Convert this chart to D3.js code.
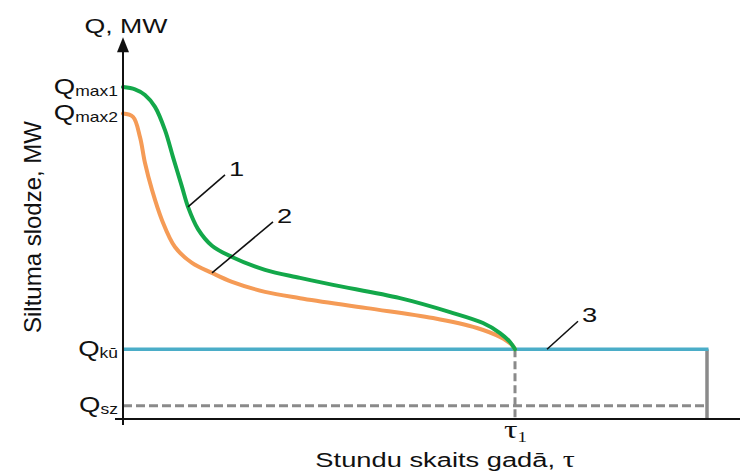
<!DOCTYPE html>
<html>
<head>
<meta charset="utf-8">
<script src="https://cdn.jsdelivr.net/npm/d3@7"></script>
<style>
  body { margin: 0; background: #fff; }
  text { font-family: "Liberation Sans", Arial, sans-serif; fill: #111; }
</style>
</head>
<body>
<svg id="chart" width="740" height="472"></svg>
<script>
// Annual heat load duration curves: heat load (MW) against hours per year.

// Curve 1 (green): hours and load
const hours1 = [0, 180, 330, 480, 630, 750, 885, 975, 1125, 1335, 1635, 2130, 2655, 3150, 4155, 4905, 5400, 5655, 5805, 5880];
const load1  = [100, 99.3, 97.6, 94.0, 87.0, 78.9, 69.9, 63.9, 57.2, 52.2, 48.8, 44.9, 42.5, 40.4, 36.4, 32.2, 28.9, 25.9, 23.2, 21];

// Curve 2 (orange): hours and load
const hours2 = [0, 150, 255, 330, 435, 585, 780, 1035, 1335, 1635, 2130, 2655, 3660, 4650, 5310, 5655, 5835, 5880];
const load2  = [92, 91.0, 84.9, 77.1, 69.0, 59.9, 51.8, 47.0, 44.0, 41.3, 38.3, 36.4, 33.4, 30.4, 27.4, 24.7, 22.3, 21];

// Named load levels on the vertical axis
const levelNames  = ["max1", "max2", "kū", "sz"];
const levelValues = [100, 92, 21, 4];

// Time markers
const tau1 = 5880;        // end of the variable-load period
const yearHours = 8760;   // hours in a year
const axisTopLoad = 115;  // top of the load axis (arrow tip)

// Callout labels: which curve and at what hour they point
const calloutText  = ["1", "2", "3"];
const calloutHours = [975, 1335, 6360];

const svg = d3.select("#chart");
const W = 740, H = 472;

const x = d3.scaleLinear().domain([0, yearHours]).range([123, 707]);
const y = d3.scaleLinear().domain([0, 100]).range([419, 87]);

const C = {
  green: "#13a84a",
  orange: "#f59b56",
  blue: "#4badc8",
  gray: "#8a8a8a"
};
const SERIF = "'Liberation Serif', 'DejaVu Serif', 'Times New Roman', serif";

// Base-load and minimum-load reference lines
const qKu = levelValues[2];
const qSz = levelValues[3];

svg.append("line")
  .attr("x1", x(0)).attr("x2", x(yearHours))
  .attr("y1", y(qSz)).attr("y2", y(qSz))
  .attr("stroke", C.gray).attr("stroke-width", 3)
  .attr("stroke-dasharray", "9,4");

svg.append("line")
  .attr("x1", x(tau1)).attr("x2", x(tau1))
  .attr("y1", y(qKu)).attr("y2", y(0))
  .attr("stroke", C.gray).attr("stroke-width", 3)
  .attr("stroke-dasharray", "8,4");

svg.append("line")
  .attr("x1", x(yearHours)).attr("x2", x(yearHours))
  .attr("y1", y(qKu)).attr("y2", y(0))
  .attr("stroke", C.gray).attr("stroke-width", 3.5);

svg.append("line")
  .attr("x1", x(0)).attr("x2", x(yearHours) + 1.5)
  .attr("y1", y(qKu)).attr("y2", y(qKu))
  .attr("stroke", C.blue).attr("stroke-width", 3.5);

// Duration curves
const line = d3.line()
  .x(d => x(d[0]))
  .y(d => y(d[1]))
  .curve(d3.curveCatmullRom.alpha(0.5));

const curve1 = d3.zip(hours1, load1);
const curve2 = d3.zip(hours2, load2);

svg.append("path").datum(curve2)
  .attr("d", line)
  .attr("fill", "none").attr("stroke", C.orange).attr("stroke-width", 4)
  .attr("stroke-linecap", "round");

svg.append("path").datum(curve1)
  .attr("d", line)
  .attr("fill", "none").attr("stroke", C.green).attr("stroke-width", 4)
  .attr("stroke-linecap", "round");

// Axes
const axisColor = "#111";
svg.append("line")
  .attr("x1", x(0) - 8).attr("x2", W)
  .attr("y1", y(0)).attr("y2", y(0))
  .attr("stroke", axisColor).attr("stroke-width", 2);

svg.append("line")
  .attr("x1", x(0)).attr("x2", x(0))
  .attr("y1", y(0) + 6).attr("y2", y(axisTopLoad) + 12)
  .attr("stroke", axisColor).attr("stroke-width", 2);

svg.append("path")
  .attr("d", `M${x(0)},${y(axisTopLoad)} L${x(0) - 6},${y(axisTopLoad) + 15} L${x(0) + 6},${y(axisTopLoad) + 15} Z`)
  .attr("fill", axisColor);

// Load level labels on the vertical axis
const yAxis = d3.axisLeft(y)
  .tickValues(levelValues)
  .tickSize(0)
  .tickFormat("");
const gy = svg.append("g")
  .attr("transform", `translate(${x(0)},0)`)
  .call(yAxis);
gy.select(".domain").remove();
gy.selectAll(".tick text").remove();
gy.selectAll(".tick").each(function(v, i) {
  const t = d3.select(this).append("text")
    .attr("text-anchor", "end")
    .attr("transform", "translate(-5,6) scale(1.25,1)")
    .style("font-size", "22px");
  t.append("tspan").text("Q");
  t.append("tspan").text(levelNames[i])
    .style("font-size", "14px")
    .attr("dy", 2);
});

// Time label under the axis
const xAxis = d3.axisBottom(x)
  .tickValues([tau1])
  .tickSize(0)
  .tickFormat("");
const gx = svg.append("g")
  .attr("transform", `translate(0,${y(0)})`)
  .call(xAxis);
gx.select(".domain").remove();
gx.selectAll(".tick text").remove();
gx.selectAll(".tick").each(function() {
  const t = d3.select(this).append("text")
    .attr("text-anchor", "middle")
    .attr("transform", "translate(0,19) scale(1.35,1)")
    .style("font-family", SERIF)
    .style("font-size", "25px");
  t.append("tspan").text("τ");
  t.append("tspan").text("1").style("font-size", "14px").attr("dy", 4);
});

// Axis titles
svg.append("text")
  .attr("text-anchor", "middle")
  .attr("transform", `translate(${x(0) + 3},33) scale(1.27,1)`)
  .style("font-size", "21px")
  .text("Q, MW");

const xt = svg.append("text")
  .attr("text-anchor", "middle")
  .attr("transform", "translate(445,467) scale(1.3,1)")
  .style("font-size", "21px");
xt.append("tspan").text("Stundu skaits gadā, ");
xt.append("tspan").text("τ").style("font-family", SERIF).style("font-size", "23px");

svg.append("text")
  .attr("text-anchor", "middle")
  .attr("transform", "translate(41,227) rotate(-90)")
  .style("font-size", "24px")
  .text("Siltuma slodze, MW");

// Callouts
function loadAt(hs, ls, h) {
  return d3.scaleLinear().domain(hs).range(ls)(h);
}
const calloutAnchors = [
  [x(calloutHours[0]), y(loadAt(hours1, load1, calloutHours[0]))],
  [x(calloutHours[1]), y(loadAt(hours2, load2, calloutHours[1]))],
  [x(calloutHours[2]), y(qKu)]
];
const calloutOffsets = [[37, -32], [61, -51], [31, -28]];

calloutAnchors.forEach((a, i) => {
  const e = [a[0] + calloutOffsets[i][0], a[1] + calloutOffsets[i][1]];
  svg.append("line")
    .attr("x1", a[0]).attr("y1", a[1])
    .attr("x2", e[0]).attr("y2", e[1])
    .attr("stroke", "#111").attr("stroke-width", 1.6);
  svg.append("text")
    .attr("transform", `translate(${e[0] + 4},${e[1] + 1}) scale(1.3,1)`)
    .style("font-size", "21px")
    .text(calloutText[i]);
});
</script>
</body>
</html>
